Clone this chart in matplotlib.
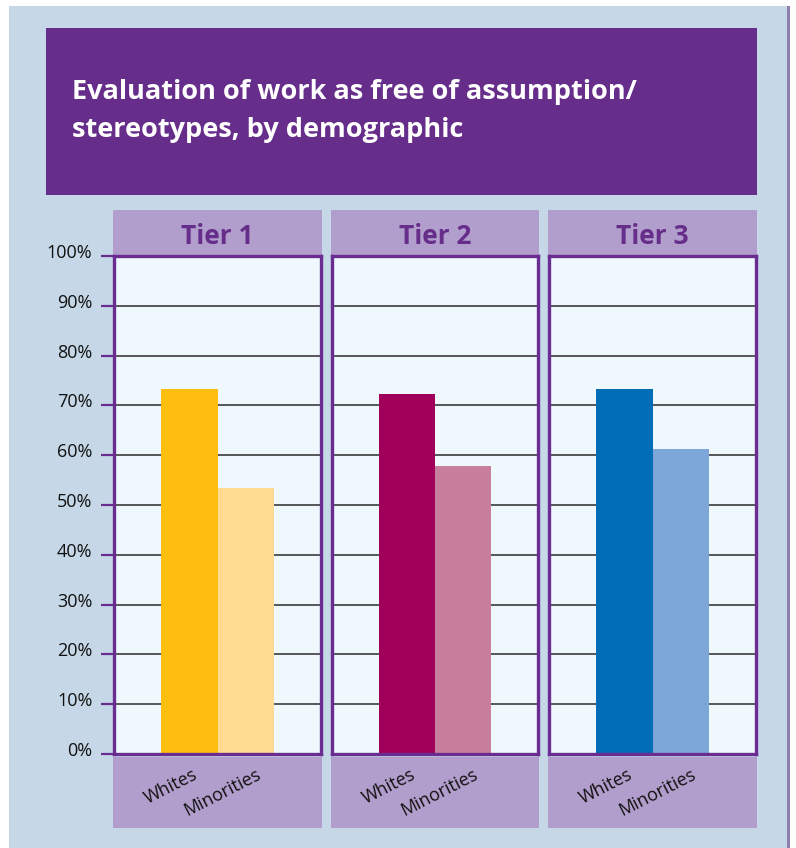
import matplotlib.pyplot as plt
from matplotlib.patches import Rectangle
from matplotlib.transforms import ScaledTranslation

tiers = ['Tier 1', 'Tier 2', 'Tier 3']
groups = ['Whites', 'Minorities']
whites = [73.3, 72.3, 73.3]
minorities = [53.4, 57.8, 61.2]
yticks = [0, 10, 20, 30, 40, 50, 60, 70, 80, 90, 100]
ytick_labels = [f'{v}%' for v in yticks]

white_colors = ['#FDBE10', '#A0005A', '#006DB6']
minority_colors = ['#FEDB90', '#C87F9D', '#7DA7D8']

W, H = 796, 848
purple = '#662D8A'
frame = '#6B2C91'

plt.rcParams['font.family'] = ['Open Sans', 'DejaVu Sans']

fig = plt.figure(figsize=(W / 100, H / 100), dpi=100)
fig.patch.set_facecolor('white')


def box(x0, y0, x1, y1, color):
    # pixel coords measured from top-left
    fig.patches.append(Rectangle((x0 / W, 1 - y1 / H), (x1 - x0) / W, (y1 - y0) / H,
                                 transform=fig.transFigure, facecolor=color,
                                 edgecolor='none', zorder=-5))


box(9, 6, 787, 848, '#C6D8E7')
box(787, 6, 790, 848, '#8E7FB0')
box(46, 28, 757, 195, purple)

fig.text(72 / W, 1 - 92 / H, 'Evaluation of work as free of assumption/',
         color='white', fontsize=19.5, fontweight='bold', va='center', ha='left')
fig.text(72 / W, 1 - 130 / H, 'stereotypes, by demographic',
         color='white', fontsize=19.5, fontweight='bold', va='center', ha='left')

panels = [(113, 322), (331, 539), (548, 757)]
top_px, bot_px = 256, 754

for i, (px0, px1) in enumerate(panels):
    box(px0, 210, px1, 255, '#B29ECC')
    box(px0, 757, px1, 828, '#B29ECC')
    fig.text((px0 + px1) / 2 / W, 1 - 237 / H, tiers[i], color=purple,
             fontsize=19, fontweight='bold', ha='center', va='center')

    ax = fig.add_axes([(px0 + 1) / W, 1 - bot_px / H, (px1 - px0 - 2) / W,
                       (bot_px - top_px) / H])
    ax.set_facecolor('#EEF8FD')
    ax.set_xlim(0, 1)
    ax.set_ylim(0, 100)
    w = 0.272
    xs = [0.5 - w / 2, 0.5 + w / 2]
    ax.bar(xs[0], whites[i], width=w, color=white_colors[i], zorder=3)
    ax.bar(xs[1], minorities[i], width=w, color=minority_colors[i], zorder=3)
    for v in yticks[1:-1]:
        ax.axhline(v, color='#2b2b2b', lw=1.1, zorder=2)
    for s in ax.spines.values():
        s.set_color(frame)
        s.set_linewidth(2.4)
        s.set_zorder(4)

    ax.set_xticks(xs)
    ax.set_xticklabels(groups, rotation=27, ha='right', rotation_mode='anchor',
                       fontsize=13, color='#111111')
    ax.tick_params(axis='x', length=0, pad=8)
    # nudge labels like the original layout
    for lab, dx in zip(ax.get_xticklabels(), [3, 10]):
        lab.set_transform(lab.get_transform() + ScaledTranslation(dx / 100, 0, fig.dpi_scale_trans))
    if i == 0:
        ax.set_yticks(yticks)
        ax.set_yticklabels(ytick_labels, fontsize=13, color='#111111')
        ax.tick_params(axis='y', length=9.5, width=1.6, color=frame, pad=6)
        for lab in ax.get_yticklabels():
            lab.set_transform(lab.get_transform() + ScaledTranslation(0, 5 / 100, fig.dpi_scale_trans))
    else:
        ax.set_yticks([])

fig.savefig('out.png', dpi=100)
